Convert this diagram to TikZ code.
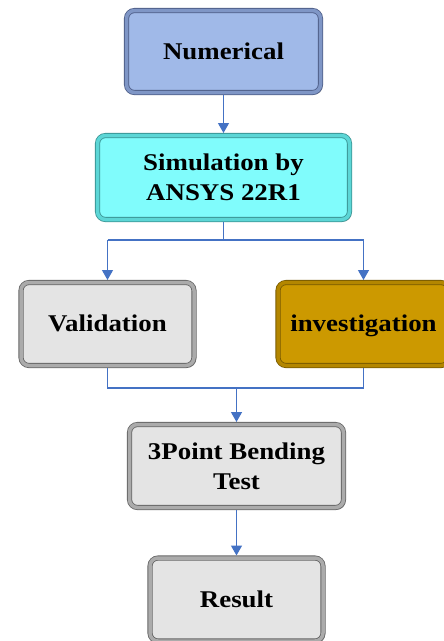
\documentclass[tikz,border=0pt]{standalone}
\usepackage{fontspec}
\setmainfont{Liberation Serif}[FakeStretch=1.12]
\usetikzlibrary{arrows.meta,shadows}

\definecolor{connblue}{HTML}{4472C4}
\definecolor{numfill}{HTML}{A0B9E8}
\definecolor{numband}{HTML}{7F96C6}
\definecolor{numedge}{HTML}{4E5E88}
\definecolor{simfill}{HTML}{80FCFC}
\definecolor{simband}{HTML}{5CD6D6}
\definecolor{simedge}{HTML}{3A9494}
\definecolor{grayfill}{HTML}{E4E4E4}
\definecolor{grayband}{HTML}{ABABAB}
\definecolor{grayedge}{HTML}{666666}
\definecolor{invfill}{HTML}{CC9900}
\definecolor{invband}{HTML}{B38600}
\definecolor{invedge}{HTML}{785A00}

\tikzset{
  bevelbox/.style n args={3}{
    rectangle, rounded corners=8pt, align=center,
    font=\fontsize{24}{30}\selectfont\bfseries,
    fill=#1, draw=#3, double=#2, double distance=3.5pt, line width=0.8pt,
    outer sep=2.5pt,
    drop shadow={shadow xshift=2pt, shadow yshift=-2pt, opacity=0.25, fill=black}
  },
  oneline/.style={text height=16pt, text depth=1pt},
  conn/.style={draw=connblue, line width=1.3pt,
    -{Triangle[width=11pt,length=10pt]}},
  wire/.style={draw=connblue, line width=1.3pt}
}

\begin{document}
\begin{tikzpicture}[x=1pt, y=-1pt]
  \useasboundingbox (0,0) rectangle (444,641);
  \clip (0,0) rectangle (444,641);

  % process boxes
  \node[bevelbox={numfill}{numband}{numedge}, oneline, minimum width=194pt, minimum height=82pt]
    (num) at (223.5,51.5) {Numerical};
  \node[bevelbox={simfill}{simband}{simedge}, minimum width=252pt, minimum height=84pt]
    (sim) at (223.5,177.5) {Simulation by\\ANSYS 22R1};
  \node[bevelbox={grayfill}{grayband}{grayedge}, oneline, minimum width=173pt, minimum height=83pt]
    (val) at (107.5,324) {Validation};
  \node[bevelbox={invfill}{invband}{invedge}, oneline, minimum width=171pt, minimum height=83pt]
    (inv) at (363.5,324) {investigation};
  \node[bevelbox={grayfill}{grayband}{grayedge}, minimum width=214pt, minimum height=83pt]
    (bend) at (236.5,466) {3Point Bending\\Test};
  \node[bevelbox={grayfill}{grayband}{grayedge}, oneline, minimum width=173pt, minimum height=83pt]
    (res) at (236.5,599.5) {Result};

  % connectors
  \draw[conn] (num.south) -- (sim.north);

  \coordinate (split) at (223.5,240);
  \draw[wire] (sim.south) -- (split);
  \draw[wire] (split -| val.south) -- (split -| inv.south);
  \draw[conn] (split -| val.north) -- (val.north);
  \draw[conn] (split -| inv.north) -- (inv.north);

  \coordinate (merge) at (236.5,388);
  \draw[wire] (val.south) -- (merge -| val.south) -- (merge -| inv.south) -- (inv.south);
  \draw[conn] (merge) -- (bend.north);

  \draw[conn] (bend.south) -- (res.north);
\end{tikzpicture}
\end{document}
